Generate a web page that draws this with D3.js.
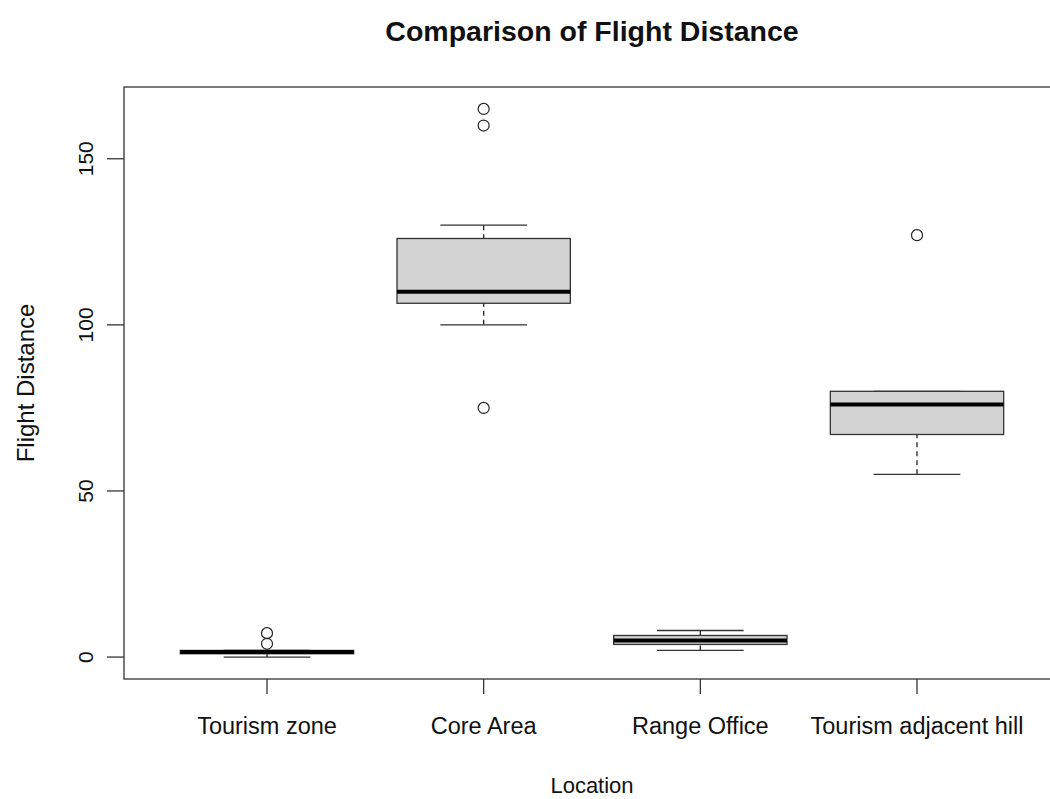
<!DOCTYPE html>
<html><head><meta charset="utf-8">
<script src="https://cdn.jsdelivr.net/npm/d3@7"></script>
<style>body{margin:0;background:#fff;} svg{display:block;}</style>
</head><body>
<svg id="c" width="1050" height="799"></svg>
<script>
const categories = ["Tourism zone","Core Area","Range Office","Tourism adjacent hill"];
const lowerWhisker = [0, 100, 2, 55];
const q1 = [1, 106.5, 3.8, 67];
const median = [1.5, 110, 5, 76];
const q3 = [2, 126, 6.5, 80];
const upperWhisker = [2, 130, 8, 80];
const outliers = [[4, 7.2], [75, 160, 165], [], [127]];
const yTicks = [0, 50, 100, 150];

const svg = d3.select("#c");
const font = "'Liberation Sans', Arial, sans-serif";
const pL = 124, pT = 87, pB = 679, pR = 1060;

const x = d3.scaleLinear().domain([0.34, 4.66]).range([pL, pR]);
const y = d3.scaleLinear().domain([-6.6, 171.6]).range([pB, pT]);
const bw = 0.4;

svg.append("rect").attr("x", pL).attr("y", pT).attr("width", pR-pL).attr("height", pB-pT)
  .attr("fill","none").attr("stroke","#333").attr("stroke-width",1.3);

categories.forEach((c,i)=>{
  const cx = x(i+1);
  const g = svg.append("g");
  g.append("line").attr("x1",cx).attr("x2",cx).attr("y1",y(upperWhisker[i])).attr("y2",y(q3[i]))
    .attr("stroke","#222").attr("stroke-width",1.3).attr("stroke-dasharray","5,4");
  g.append("line").attr("x1",cx).attr("x2",cx).attr("y1",y(lowerWhisker[i])).attr("y2",y(q1[i]))
    .attr("stroke","#222").attr("stroke-width",1.3).attr("stroke-dasharray","5,4");
  [upperWhisker[i], lowerWhisker[i]].forEach(v=>{
    g.append("line").attr("x1",x(i+1-bw/2)).attr("x2",x(i+1+bw/2)).attr("y1",y(v)).attr("y2",y(v))
      .attr("stroke","#333").attr("stroke-width",1.3);
  });
  g.append("rect").attr("x",x(i+1-bw)).attr("width",x(i+1+bw)-x(i+1-bw))
    .attr("y",y(q3[i])).attr("height",Math.max(0.5,y(q1[i])-y(q3[i])))
    .attr("fill","#d3d3d3").attr("stroke","#333").attr("stroke-width",1.3);
  g.append("line").attr("x1",x(i+1-bw)).attr("x2",x(i+1+bw)).attr("y1",y(median[i])).attr("y2",y(median[i]))
    .attr("stroke","#000").attr("stroke-width",4);
  outliers[i].forEach(v=>{
    g.append("circle").attr("cx",cx).attr("cy",y(v)).attr("r",5.5)
      .attr("fill","none").attr("stroke","#222").attr("stroke-width",1.2);
  });
});

yTicks.forEach(t=>{
  svg.append("line").attr("x1",pL-17).attr("x2",pL).attr("y1",y(t)).attr("y2",y(t))
    .attr("stroke","#333").attr("stroke-width",1.3);
  svg.append("text").attr("transform",`translate(93,${y(t)}) rotate(-90)`)
    .attr("text-anchor","middle").attr("font-family",font).attr("font-size",21).attr("fill","#111")
    .text(t);
});
categories.forEach((c,i)=>{
  svg.append("line").attr("x1",x(i+1)).attr("x2",x(i+1)).attr("y1",pB).attr("y2",pB+15)
    .attr("stroke","#333").attr("stroke-width",1.3);
  svg.append("text").attr("x",x(i+1)).attr("y",734).attr("text-anchor","middle")
    .attr("font-family",font).attr("font-size",23.5).attr("fill","#111").text(c);
});

svg.append("text").attr("x",(pL+pR)/2).attr("y",41).attr("text-anchor","middle")
  .attr("font-family",font).attr("font-weight","bold").attr("font-size",28.5).attr("fill","#111")
  .text("Comparison of Flight Distance");
svg.append("text").attr("x",(pL+pR)/2).attr("y",793).attr("text-anchor","middle")
  .attr("font-family",font).attr("font-size",22).attr("fill","#111").text("Location");
svg.append("text").attr("transform",`translate(34,${(pT+pB)/2}) rotate(-90)`)
  .attr("text-anchor","middle").attr("font-family",font).attr("font-size",24).attr("fill","#111")
  .text("Flight Distance");
</script>
</body></html>
